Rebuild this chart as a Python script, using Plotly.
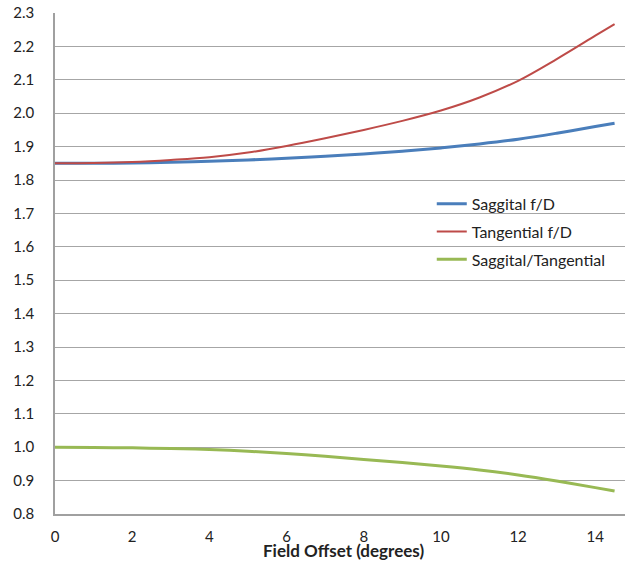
import plotly.graph_objects as go

field_offset = [0, 1, 2, 3, 4, 5, 6, 7, 8, 9, 10, 11, 12, 13, 14, 14.5]
saggital_fd = [1.850, 1.850, 1.851, 1.853, 1.856, 1.860, 1.865, 1.871, 1.878,
               1.886, 1.896, 1.908, 1.922, 1.940, 1.960, 1.970]
tangential_fd = [1.850, 1.851, 1.854, 1.860, 1.868, 1.882, 1.902, 1.925, 1.950,
                 1.977, 2.008, 2.047, 2.097, 2.162, 2.232, 2.267]
ratio_st = [1.000, 0.999, 0.998, 0.996, 0.993, 0.988, 0.981, 0.973, 0.963,
            0.954, 0.944, 0.932, 0.917, 0.899, 0.879, 0.869]

x_ticks = [0, 2, 4, 6, 8, 10, 12, 14]
y_ticks = [0.8, 0.9, 1.0, 1.1, 1.2, 1.3, 1.4, 1.5, 1.6, 1.7, 1.8, 1.9, 2.0, 2.1, 2.2, 2.3]

FONT = "Lato, Open Sans, sans-serif"

fig = go.Figure()
fig.add_trace(go.Scatter(x=field_offset, y=saggital_fd, mode="lines", legendgroup="a",
                         name="Saggital f/D", line=dict(color="#4A7EBB", width=3, shape="spline")))
fig.add_trace(go.Scatter(x=field_offset, y=tangential_fd, mode="lines", legendgroup="b",
                         name="Tangential f/D", line=dict(color="#BE4B48", width=2, shape="spline")))
fig.add_trace(go.Scatter(x=field_offset, y=ratio_st, mode="lines", legendgroup="c",
                         name="Saggital/Tangential", line=dict(color="#98B954", width=3, shape="spline")))

fig.update_layout(
    width=625, height=564,
    margin=dict(l=55, r=0, t=13, b=50, autoexpand=False),
    paper_bgcolor="white", plot_bgcolor="white",
    font=dict(family=FONT, size=15, color="#222"),
    showlegend=True,
    legend=dict(x=0.661, y=0.653, xanchor="left", yanchor="top",
                bgcolor="rgba(0,0,0,0)", font=dict(size=16, family=FONT),
                tracegroupgap=4, itemwidth=30),
    xaxis=dict(range=[0, 14.77], tickvals=x_ticks, showgrid=False, zeroline=False,
               showline=True, linecolor="#A0A0A0", linewidth=1.5, automargin=False,
               ticks="", ticklabelstandoff=8, ticklabeloverflow="allow"),
    yaxis=dict(range=[0.8, 2.3], tickvals=y_ticks, tickformat=".1f", automargin=False,
               showgrid=True, gridcolor="#A6A6A6", gridwidth=1.2, zeroline=False,
               showline=True, linecolor="#A0A0A0", linewidth=1.5,
               ticks="", ticklabelstandoff=16, ticklabeloverflow="allow"),
    annotations=[dict(text="<b>Field Offset (degrees)</b>", xref="paper", yref="paper",
                      x=0.507, y=-0.073, xanchor="center", yanchor="middle",
                      showarrow=False, font=dict(size=17, family=FONT, color="#222"))],
)

fig.write_html("out.html", config={"displayModeBar": False},
               post_script="document.body.style.margin='0';")
